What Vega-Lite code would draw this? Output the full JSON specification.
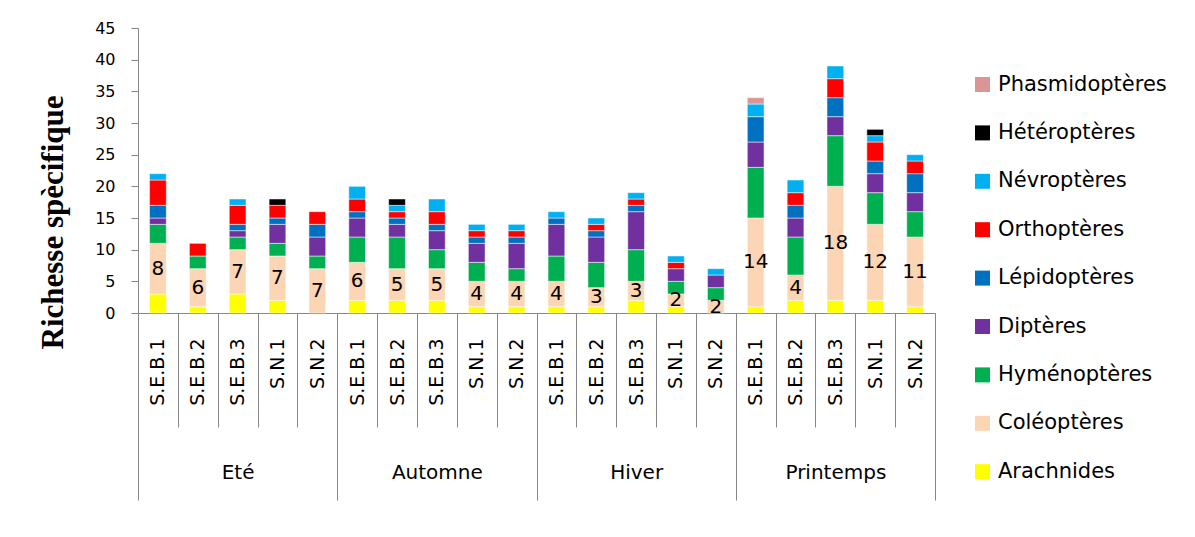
{
  "$schema": "https://vega.github.io/schema/vega-lite/v6.json",
  "width": 797,
  "height": 285,
  "autosize": {"type": "none"},
  "padding": {"left": 138, "top": 28, "right": 260, "bottom": 224},
  "background": "white",
  "config": {
    "view": {"stroke": null},
    "font": "DejaVu Sans",
    "axis": {"domainColor": "#868686", "tickColor": "#868686", "labelColor": "#000000", "grid": false}
  },
  "datasets": {
    "taxa": [
      {"t": "Arachnides", "rang": 1},
      {"t": "Coléoptères", "rang": 2},
      {"t": "Hyménoptères", "rang": 3},
      {"t": "Diptères", "rang": 4},
      {"t": "Lépidoptères", "rang": 5},
      {"t": "Orthoptères", "rang": 6},
      {"t": "Névroptères", "rang": 7},
      {"t": "Hétéroptères", "rang": 8},
      {"t": "Phasmidoptères", "rang": 9}
    ]
  },
  "data": {"values": [
    {"s":"Eté","k":"Eté|S.E.B.1","t":"Arachnides","v":3},
    {"s":"Eté","k":"Eté|S.E.B.1","t":"Coléoptères","v":8},
    {"s":"Eté","k":"Eté|S.E.B.1","t":"Hyménoptères","v":3},
    {"s":"Eté","k":"Eté|S.E.B.1","t":"Diptères","v":1},
    {"s":"Eté","k":"Eté|S.E.B.1","t":"Lépidoptères","v":2},
    {"s":"Eté","k":"Eté|S.E.B.1","t":"Orthoptères","v":4},
    {"s":"Eté","k":"Eté|S.E.B.1","t":"Névroptères","v":1},
    {"s":"Eté","k":"Eté|S.E.B.2","t":"Arachnides","v":1},
    {"s":"Eté","k":"Eté|S.E.B.2","t":"Coléoptères","v":6},
    {"s":"Eté","k":"Eté|S.E.B.2","t":"Hyménoptères","v":2},
    {"s":"Eté","k":"Eté|S.E.B.2","t":"Orthoptères","v":2},
    {"s":"Eté","k":"Eté|S.E.B.3","t":"Arachnides","v":3},
    {"s":"Eté","k":"Eté|S.E.B.3","t":"Coléoptères","v":7},
    {"s":"Eté","k":"Eté|S.E.B.3","t":"Hyménoptères","v":2},
    {"s":"Eté","k":"Eté|S.E.B.3","t":"Diptères","v":1},
    {"s":"Eté","k":"Eté|S.E.B.3","t":"Lépidoptères","v":1},
    {"s":"Eté","k":"Eté|S.E.B.3","t":"Orthoptères","v":3},
    {"s":"Eté","k":"Eté|S.E.B.3","t":"Névroptères","v":1},
    {"s":"Eté","k":"Eté|S.N.1","t":"Arachnides","v":2},
    {"s":"Eté","k":"Eté|S.N.1","t":"Coléoptères","v":7},
    {"s":"Eté","k":"Eté|S.N.1","t":"Hyménoptères","v":2},
    {"s":"Eté","k":"Eté|S.N.1","t":"Diptères","v":3},
    {"s":"Eté","k":"Eté|S.N.1","t":"Lépidoptères","v":1},
    {"s":"Eté","k":"Eté|S.N.1","t":"Orthoptères","v":2},
    {"s":"Eté","k":"Eté|S.N.1","t":"Hétéroptères","v":1},
    {"s":"Eté","k":"Eté|S.N.2","t":"Coléoptères","v":7},
    {"s":"Eté","k":"Eté|S.N.2","t":"Hyménoptères","v":2},
    {"s":"Eté","k":"Eté|S.N.2","t":"Diptères","v":3},
    {"s":"Eté","k":"Eté|S.N.2","t":"Lépidoptères","v":2},
    {"s":"Eté","k":"Eté|S.N.2","t":"Orthoptères","v":2},
    {"s":"Automne","k":"Automne|S.E.B.1","t":"Arachnides","v":2},
    {"s":"Automne","k":"Automne|S.E.B.1","t":"Coléoptères","v":6},
    {"s":"Automne","k":"Automne|S.E.B.1","t":"Hyménoptères","v":4},
    {"s":"Automne","k":"Automne|S.E.B.1","t":"Diptères","v":3},
    {"s":"Automne","k":"Automne|S.E.B.1","t":"Lépidoptères","v":1},
    {"s":"Automne","k":"Automne|S.E.B.1","t":"Orthoptères","v":2},
    {"s":"Automne","k":"Automne|S.E.B.1","t":"Névroptères","v":2},
    {"s":"Automne","k":"Automne|S.E.B.2","t":"Arachnides","v":2},
    {"s":"Automne","k":"Automne|S.E.B.2","t":"Coléoptères","v":5},
    {"s":"Automne","k":"Automne|S.E.B.2","t":"Hyménoptères","v":5},
    {"s":"Automne","k":"Automne|S.E.B.2","t":"Diptères","v":2},
    {"s":"Automne","k":"Automne|S.E.B.2","t":"Lépidoptères","v":1},
    {"s":"Automne","k":"Automne|S.E.B.2","t":"Orthoptères","v":1},
    {"s":"Automne","k":"Automne|S.E.B.2","t":"Névroptères","v":1},
    {"s":"Automne","k":"Automne|S.E.B.2","t":"Hétéroptères","v":1},
    {"s":"Automne","k":"Automne|S.E.B.3","t":"Arachnides","v":2},
    {"s":"Automne","k":"Automne|S.E.B.3","t":"Coléoptères","v":5},
    {"s":"Automne","k":"Automne|S.E.B.3","t":"Hyménoptères","v":3},
    {"s":"Automne","k":"Automne|S.E.B.3","t":"Diptères","v":3},
    {"s":"Automne","k":"Automne|S.E.B.3","t":"Lépidoptères","v":1},
    {"s":"Automne","k":"Automne|S.E.B.3","t":"Orthoptères","v":2},
    {"s":"Automne","k":"Automne|S.E.B.3","t":"Névroptères","v":2},
    {"s":"Automne","k":"Automne|S.N.1","t":"Arachnides","v":1},
    {"s":"Automne","k":"Automne|S.N.1","t":"Coléoptères","v":4},
    {"s":"Automne","k":"Automne|S.N.1","t":"Hyménoptères","v":3},
    {"s":"Automne","k":"Automne|S.N.1","t":"Diptères","v":3},
    {"s":"Automne","k":"Automne|S.N.1","t":"Lépidoptères","v":1},
    {"s":"Automne","k":"Automne|S.N.1","t":"Orthoptères","v":1},
    {"s":"Automne","k":"Automne|S.N.1","t":"Névroptères","v":1},
    {"s":"Automne","k":"Automne|S.N.2","t":"Arachnides","v":1},
    {"s":"Automne","k":"Automne|S.N.2","t":"Coléoptères","v":4},
    {"s":"Automne","k":"Automne|S.N.2","t":"Hyménoptères","v":2},
    {"s":"Automne","k":"Automne|S.N.2","t":"Diptères","v":4},
    {"s":"Automne","k":"Automne|S.N.2","t":"Lépidoptères","v":1},
    {"s":"Automne","k":"Automne|S.N.2","t":"Orthoptères","v":1},
    {"s":"Automne","k":"Automne|S.N.2","t":"Névroptères","v":1},
    {"s":"Hiver","k":"Hiver|S.E.B.1","t":"Arachnides","v":1},
    {"s":"Hiver","k":"Hiver|S.E.B.1","t":"Coléoptères","v":4},
    {"s":"Hiver","k":"Hiver|S.E.B.1","t":"Hyménoptères","v":4},
    {"s":"Hiver","k":"Hiver|S.E.B.1","t":"Diptères","v":5},
    {"s":"Hiver","k":"Hiver|S.E.B.1","t":"Lépidoptères","v":1},
    {"s":"Hiver","k":"Hiver|S.E.B.1","t":"Névroptères","v":1},
    {"s":"Hiver","k":"Hiver|S.E.B.2","t":"Arachnides","v":1},
    {"s":"Hiver","k":"Hiver|S.E.B.2","t":"Coléoptères","v":3},
    {"s":"Hiver","k":"Hiver|S.E.B.2","t":"Hyménoptères","v":4},
    {"s":"Hiver","k":"Hiver|S.E.B.2","t":"Diptères","v":4},
    {"s":"Hiver","k":"Hiver|S.E.B.2","t":"Lépidoptères","v":1},
    {"s":"Hiver","k":"Hiver|S.E.B.2","t":"Orthoptères","v":1},
    {"s":"Hiver","k":"Hiver|S.E.B.2","t":"Névroptères","v":1},
    {"s":"Hiver","k":"Hiver|S.E.B.3","t":"Arachnides","v":2},
    {"s":"Hiver","k":"Hiver|S.E.B.3","t":"Coléoptères","v":3},
    {"s":"Hiver","k":"Hiver|S.E.B.3","t":"Hyménoptères","v":5},
    {"s":"Hiver","k":"Hiver|S.E.B.3","t":"Diptères","v":6},
    {"s":"Hiver","k":"Hiver|S.E.B.3","t":"Lépidoptères","v":1},
    {"s":"Hiver","k":"Hiver|S.E.B.3","t":"Orthoptères","v":1},
    {"s":"Hiver","k":"Hiver|S.E.B.3","t":"Névroptères","v":1},
    {"s":"Hiver","k":"Hiver|S.N.1","t":"Arachnides","v":1},
    {"s":"Hiver","k":"Hiver|S.N.1","t":"Coléoptères","v":2},
    {"s":"Hiver","k":"Hiver|S.N.1","t":"Hyménoptères","v":2},
    {"s":"Hiver","k":"Hiver|S.N.1","t":"Diptères","v":2},
    {"s":"Hiver","k":"Hiver|S.N.1","t":"Orthoptères","v":1},
    {"s":"Hiver","k":"Hiver|S.N.1","t":"Névroptères","v":1},
    {"s":"Hiver","k":"Hiver|S.N.2","t":"Coléoptères","v":2},
    {"s":"Hiver","k":"Hiver|S.N.2","t":"Hyménoptères","v":2},
    {"s":"Hiver","k":"Hiver|S.N.2","t":"Diptères","v":2},
    {"s":"Hiver","k":"Hiver|S.N.2","t":"Névroptères","v":1},
    {"s":"Printemps","k":"Printemps|S.E.B.1","t":"Arachnides","v":1},
    {"s":"Printemps","k":"Printemps|S.E.B.1","t":"Coléoptères","v":14},
    {"s":"Printemps","k":"Printemps|S.E.B.1","t":"Hyménoptères","v":8},
    {"s":"Printemps","k":"Printemps|S.E.B.1","t":"Diptères","v":4},
    {"s":"Printemps","k":"Printemps|S.E.B.1","t":"Lépidoptères","v":4},
    {"s":"Printemps","k":"Printemps|S.E.B.1","t":"Névroptères","v":2},
    {"s":"Printemps","k":"Printemps|S.E.B.1","t":"Phasmidoptères","v":1},
    {"s":"Printemps","k":"Printemps|S.E.B.2","t":"Arachnides","v":2},
    {"s":"Printemps","k":"Printemps|S.E.B.2","t":"Coléoptères","v":4},
    {"s":"Printemps","k":"Printemps|S.E.B.2","t":"Hyménoptères","v":6},
    {"s":"Printemps","k":"Printemps|S.E.B.2","t":"Diptères","v":3},
    {"s":"Printemps","k":"Printemps|S.E.B.2","t":"Lépidoptères","v":2},
    {"s":"Printemps","k":"Printemps|S.E.B.2","t":"Orthoptères","v":2},
    {"s":"Printemps","k":"Printemps|S.E.B.2","t":"Névroptères","v":2},
    {"s":"Printemps","k":"Printemps|S.E.B.3","t":"Arachnides","v":2},
    {"s":"Printemps","k":"Printemps|S.E.B.3","t":"Coléoptères","v":18},
    {"s":"Printemps","k":"Printemps|S.E.B.3","t":"Hyménoptères","v":8},
    {"s":"Printemps","k":"Printemps|S.E.B.3","t":"Diptères","v":3},
    {"s":"Printemps","k":"Printemps|S.E.B.3","t":"Lépidoptères","v":3},
    {"s":"Printemps","k":"Printemps|S.E.B.3","t":"Orthoptères","v":3},
    {"s":"Printemps","k":"Printemps|S.E.B.3","t":"Névroptères","v":2},
    {"s":"Printemps","k":"Printemps|S.N.1","t":"Arachnides","v":2},
    {"s":"Printemps","k":"Printemps|S.N.1","t":"Coléoptères","v":12},
    {"s":"Printemps","k":"Printemps|S.N.1","t":"Hyménoptères","v":5},
    {"s":"Printemps","k":"Printemps|S.N.1","t":"Diptères","v":3},
    {"s":"Printemps","k":"Printemps|S.N.1","t":"Lépidoptères","v":2},
    {"s":"Printemps","k":"Printemps|S.N.1","t":"Orthoptères","v":3},
    {"s":"Printemps","k":"Printemps|S.N.1","t":"Névroptères","v":1},
    {"s":"Printemps","k":"Printemps|S.N.1","t":"Hétéroptères","v":1},
    {"s":"Printemps","k":"Printemps|S.N.2","t":"Arachnides","v":1},
    {"s":"Printemps","k":"Printemps|S.N.2","t":"Coléoptères","v":11},
    {"s":"Printemps","k":"Printemps|S.N.2","t":"Hyménoptères","v":4},
    {"s":"Printemps","k":"Printemps|S.N.2","t":"Diptères","v":3},
    {"s":"Printemps","k":"Printemps|S.N.2","t":"Lépidoptères","v":3},
    {"s":"Printemps","k":"Printemps|S.N.2","t":"Orthoptères","v":2},
    {"s":"Printemps","k":"Printemps|S.N.2","t":"Névroptères","v":1}
  ]},
  "transform": [
    {"lookup": "t", "from": {"data": {"name": "taxa"}, "key": "t", "fields": ["rang"]}}
  ],
  "layer": [
    {
      "mark": {"type": "bar", "stroke": "white", "strokeWidth": 0.5, "width": {"band": 0.42}},
      "encoding": {
        "x": {
          "field": "k", "type": "nominal", "sort": null,
          "scale": {"paddingInner": 0, "paddingOuter": 0},
          "axis": {
            "orient": "bottom", "title": null, "labelAngle": -90,
            "labelExpr": "split(datum.label, '|')[1]",
            "tickBand": "extent", "tickSize": 114, "labelPadding": -89,
            "labelFontSize": 19, "labelAlign": "right", "labelBaseline": "middle"
          }
        },
        "y": {
          "field": "v", "type": "quantitative", "stack": "zero",
          "scale": {"domain": [0, 45], "nice": false},
          "axis": {
            "values": [0, 5, 10, 15, 20, 25, 30, 35, 40, 45],
            "title": "Richesse spècifique", "titleFont": "Liberation Serif",
            "titleFontWeight": "bold", "titleFontSize": 31, "titleX": -85, "titleY": 194,
            "titleAngle": -90, "titleAlign": "center", "titleBaseline": "middle",
            "labelFontSize": 16, "tickSize": 7, "labelPadding": 16
          }
        },
        "order": {"field": "rang", "type": "quantitative", "sort": "ascending"},
        "color": {
          "field": "t", "type": "nominal",
          "scale": {
            "domain": ["Phasmidoptères", "Hétéroptères", "Névroptères", "Orthoptères", "Lépidoptères", "Diptères", "Hyménoptères", "Coléoptères", "Arachnides"],
            "range": ["#D99694", "#000000", "#00B0F0", "#FF0000", "#0070C0", "#7030A0", "#00B050", "#FCD5B5", "#FFFF00"]
          },
          "legend": {
            "orient": "none", "legendX": 834, "legendY": 46, "title": null,
            "symbolType": "square", "symbolSize": 225, "symbolStrokeWidth": 0,
            "labelFontSize": 21, "rowPadding": 26.4, "labelOffset": 5, "labelLimit": 300
          }
        }
      }
    },
    {
      "mark": {"type": "text", "fontSize": 20, "color": "black", "baseline": "middle"},
      "encoding": {
        "x": {
          "field": "k", "type": "nominal", "sort": null,
          "scale": {"paddingInner": 0, "paddingOuter": 0},
          "axis": null
        },
        "y": {
          "field": "v", "type": "quantitative", "stack": "zero", "bandPosition": 0.5,
          "scale": {"domain": [0, 45], "nice": false},
          "axis": {
            "values": [0, 5, 10, 15, 20, 25, 30, 35, 40, 45],
            "title": "Richesse spècifique", "titleFont": "Liberation Serif",
            "titleFontWeight": "bold", "titleFontSize": 31, "titleX": -85, "titleY": 194,
            "titleAngle": -90, "titleAlign": "center", "titleBaseline": "middle",
            "labelFontSize": 16, "tickSize": 7, "labelPadding": 16
          }
        },
        "order": {"field": "rang", "type": "quantitative", "sort": "ascending"},
        "text": {"condition": {"test": "datum.t === 'Coléoptères'", "field": "v", "type": "quantitative"}, "value": ""}
      }
    },
    {
      "mark": {"type": "bar", "opacity": 0},
      "encoding": {
        "x": {
          "field": "s", "type": "nominal", "sort": ["Eté", "Automne", "Hiver", "Printemps"],
          "scale": {"paddingInner": 0, "paddingOuter": 0},
          "axis": {
            "orient": "bottom", "title": null, "domain": false, "labelAngle": 0,
            "tickBand": "extent", "tickSize": 187, "labelPadding": -38,
            "labelFontSize": 20, "labelBaseline": "top"
          }
        }
      }
    }
  ],
  "resolve": {"scale": {"x": "independent"}, "axis": {"x": "independent"}}
}
